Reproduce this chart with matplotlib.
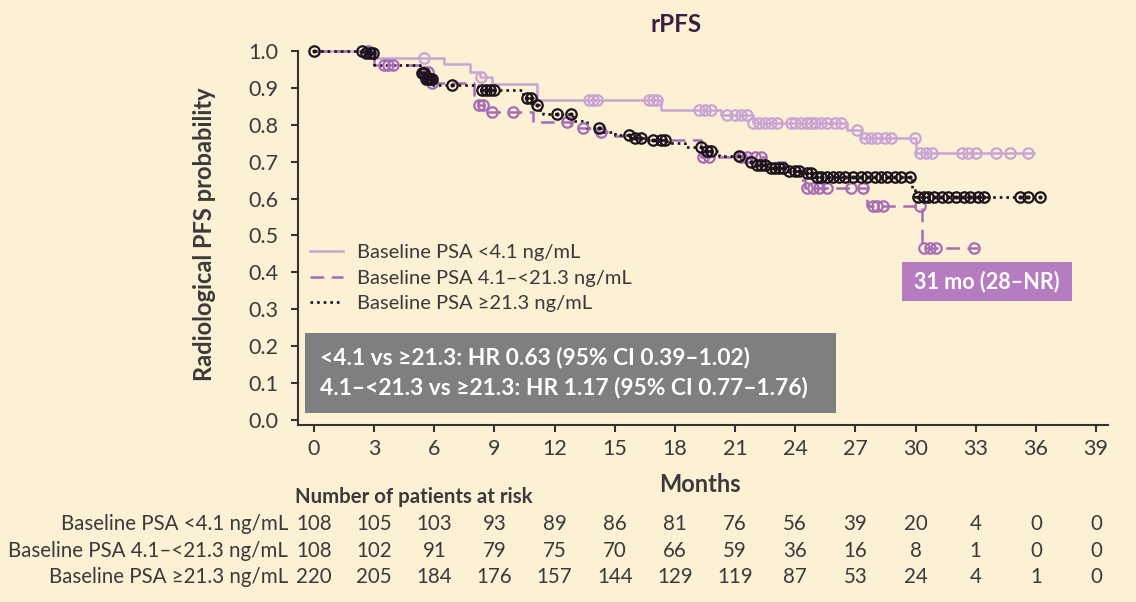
import numpy as np
import matplotlib
matplotlib.use("Agg")
import matplotlib.pyplot as plt
from matplotlib.lines import Line2D
from matplotlib.patches import Rectangle

plt.rcParams['font.family'] = ['Lato', 'DejaVu Sans']

W, H = 1136, 602
BG = '#fcf1d5'

# x ticks / risk table times
risk_times = list(range(0, 40, 3))
group_labels = ['Baseline PSA <4.1 ng/mL',
                'Baseline PSA 4.1\u2013<21.3 ng/mL',
                'Baseline PSA \u226521.3 ng/mL']
risk_low = [108, 105, 103, 93, 89, 86, 81, 76, 56, 39, 20, 4, 0, 0]
risk_mid = [108, 102, 91, 79, 75, 70, 66, 59, 36, 16, 8, 1, 0, 0]
risk_high = [220, 205, 184, 176, 157, 144, 129, 119, 87, 53, 24, 4, 1, 0]

# KM step curves
low_t = [0, 2.7, 6.5, 7.8, 8.3, 8.9, 11.1, 17.3, 20.3, 21.9, 26.6, 27.3, 30.0]
low_s = [1.0, 0.982, 0.964, 0.944, 0.93, 0.91, 0.867, 0.84, 0.826, 0.806, 0.786, 0.765, 0.724]
low_end = 35.9
low_cens = [5.5, 8.35, 13.7, 13.9, 14.1, 16.7, 16.9, 17.1, 19.2, 19.5, 19.8, 20.6, 21.0,
            21.3, 21.6, 21.9, 22.2, 22.5, 22.8, 23.1, 23.8, 24.0, 24.3, 24.6, 24.8, 25.0,
            25.3, 25.6, 26.0, 26.3, 27.1, 27.5, 27.8, 28.1, 28.5, 28.8, 29.95, 30.2, 30.5,
            30.8, 32.3, 32.6, 33.0, 34.0, 34.7, 35.6]

mid_t = [0, 3.0, 5.4, 5.8, 8.0, 8.2, 8.5, 10.9, 12.8, 14.0, 15.0, 16.2, 19.3, 22.5, 23.5,
         24.2, 24.5, 27.6, 30.3]
mid_s = [1.0, 0.962, 0.944, 0.913, 0.88, 0.854, 0.835, 0.808, 0.79, 0.78, 0.77, 0.76, 0.714,
         0.70, 0.675, 0.65, 0.628, 0.58, 0.467]
mid_end = 33.1
mid_cens = [2.7, 3.5, 3.7, 3.95, 5.5, 5.7, 5.9, 8.25, 8.45, 8.9, 9.9, 12.6, 13.4, 14.3,
            19.4, 19.7, 21.3, 21.6, 22.0, 22.3, 24.6, 24.9, 25.2, 25.6, 26.8, 27.4, 27.9,
            28.1, 28.4, 30.2, 30.4, 30.7, 31.0, 32.9]

high_t = [0, 2.5, 3.0, 5.3, 5.6, 5.95, 8.2, 10.4, 10.9, 11.2, 11.4, 12.9, 13.6, 14.3, 15.0,
          15.8, 16.6, 17.6, 18.5, 19.4, 20.2, 21.3, 22.0, 22.6, 23.5, 24.3, 24.9, 29.8, 29.95]
high_s = [1.0, 0.995, 0.962, 0.94, 0.925, 0.908, 0.894, 0.873, 0.854, 0.84, 0.829, 0.81,
          0.79, 0.78, 0.772, 0.765, 0.759, 0.75, 0.74, 0.73, 0.715, 0.70, 0.69, 0.683, 0.675,
          0.669, 0.658, 0.63, 0.605]
high_end = 36.2
high_cens = [0, 2.4, 2.6, 2.8, 2.95, 5.4, 5.5, 5.6, 5.7, 5.8, 5.9, 6.9, 8.4, 8.6, 8.8, 9.0,
             10.6, 10.8, 11.1, 12.1, 12.8, 14.2, 15.7, 16.0, 16.3, 16.9, 17.3, 17.5, 19.3,
             19.6, 19.8, 21.2, 21.8, 22.1, 22.3, 22.5, 22.8, 23.0, 23.2, 23.4, 23.7, 24.0,
             24.2, 24.6, 24.8, 25.1, 25.3, 25.6, 25.9, 26.2, 26.5, 26.9, 27.3, 27.6, 28.0,
             28.3, 28.6, 29.0, 29.3, 29.7, 30.1, 30.4, 30.6, 30.9, 31.3, 31.6, 32.0, 32.4,
             32.7, 33.1, 33.4, 35.2, 35.6, 36.2]

C_LOW = '#c9a5d4'
C_MID = '#a66db4'
C_HIGH = '#1c141c'
TXT = '#3a3a3a'
DASH = (0, (5.5, 3))
DOT = (0, (1, 1.5))


def fx(px):
    return px / W


def fy(py):
    return 1 - py / H


fig = plt.figure(figsize=(W / 100, H / 100), dpi=100, facecolor=BG)
ax = fig.add_axes([fx(298), fy(425), fx(1108) - fx(298), fy(51) - fy(425)])
ax.set_facecolor(BG)


def km(t, s, end, cens, color, ls, lw, dot):
    tt = list(t) + [end]
    ss = list(s) + [s[-1]]
    ax.step(tt, ss, where='post', color=color, ls=ls, lw=lw, clip_on=False, zorder=3)
    idx = np.searchsorted(t, cens, side='right') - 1
    cy = np.array(s)[idx]
    ax.plot(cens, cy, ls='none', marker='o', ms=7.5, mfc='none', mec=color, mew=1.6,
            clip_on=False, zorder=4)
    if dot:
        ax.plot(cens, cy, ls='none', marker='o', ms=2, color=color, clip_on=False, zorder=4)


km(low_t, low_s, low_end, low_cens, C_LOW, '-', 1.8, False)
km(mid_t, mid_s, mid_end, mid_cens, C_MID, DASH, 1.8, False)
km(high_t, high_s, high_end, high_cens, C_HIGH, DOT, 1.9, True)

ax.set_xlim(-0.8, 39.6)
ax.set_ylim(-0.0136, 1.0)
ax.set_xticks(risk_times)
ax.set_yticks(np.arange(0, 1.01, 0.1))
ax.set_yticklabels([f'{v:.1f}' for v in np.arange(0, 1.01, 0.1)])
for sp in ['top', 'right']:
    ax.spines[sp].set_visible(False)
for sp in ['left', 'bottom']:
    ax.spines[sp].set_color('#333333')
    ax.spines[sp].set_linewidth(1.5)
ax.tick_params(axis='both', colors='#333333', labelcolor=TXT, labelsize=15.5,
               width=1.5, length=5)
ax.tick_params(axis='y', pad=9)
ax.tick_params(axis='x', pad=5)

fig.text(fx(676), fy(25), 'rPFS', ha='center', va='center', fontsize=17.5,
         fontweight='bold', color='#3f1d3f')
fig.text(fx(205), fy(234), 'Radiological PFS probability', rotation=90, ha='center',
         va='center', fontsize=17, fontweight='bold', color=TXT)
fig.text(fx(700), fy(484), 'Months', ha='center', va='center', fontsize=17,
         fontweight='bold', color=TXT)

handles = [Line2D([], [], color=C_LOW, lw=1.8),
           Line2D([], [], color=C_MID, lw=1.8, ls=DASH),
           Line2D([], [], color=C_HIGH, lw=1.9, ls=DOT)]
leg = fig.legend(handles, group_labels, loc='upper left',
                 bbox_to_anchor=(fx(310), fy(244)), frameon=False, fontsize=14.5,
                 handlelength=1.65, handletextpad=0.7, labelspacing=0.42,
                 borderaxespad=0, borderpad=0)
for t in leg.get_texts():
    t.set_color(TXT)

fig.patches.append(Rectangle((fx(305), fy(413)), fx(836) - fx(305), fy(333) - fy(413),
                             transform=fig.transFigure, facecolor='#7f7f7f',
                             edgecolor='none', zorder=5))
fig.text(fx(320), fy(357), '<4.1 vs \u226521.3: HR 0.63 (95% CI 0.39\u20131.02)',
         ha='left', va='center', fontsize=16.4, fontweight='bold', color='white', zorder=6)
fig.text(fx(320), fy(388), '4.1\u2013<21.3 vs \u226521.3: HR 1.17 (95% CI 0.77\u20131.76)',
         ha='left', va='center', fontsize=16.4, fontweight='bold', color='white', zorder=6)

fig.patches.append(Rectangle((fx(902), fy(301)), fx(1072) - fx(902), fy(262) - fy(301),
                             transform=fig.transFigure, facecolor='#b67cc1',
                             edgecolor='none', zorder=5))
fig.text(fx(987), fy(282), '31 mo (28\u2013NR)', ha='center', va='center', fontsize=15.5,
         fontweight='bold', color='white', zorder=6)

# risk table
fig.text(fx(295), fy(497), 'Number of patients at risk', ha='left', va='center',
         fontsize=14.7, fontweight='bold', color=TXT)
trans = matplotlib.transforms.blended_transform_factory(ax.transData, fig.transFigure)
for row, (lab, vals) in enumerate(zip(group_labels, [risk_low, risk_mid, risk_high])):
    yy = fy([524, 551, 577][row])
    fig.text(fx(288), yy, lab, ha='right', va='center', fontsize=14.8, color=TXT)
    for t, v in zip(risk_times, vals):
        ax.text(t, yy, str(v), transform=trans, ha='center', va='center', fontsize=14.8,
                color=TXT, clip_on=False)

fig.savefig('out.png', dpi=100, facecolor=BG)
